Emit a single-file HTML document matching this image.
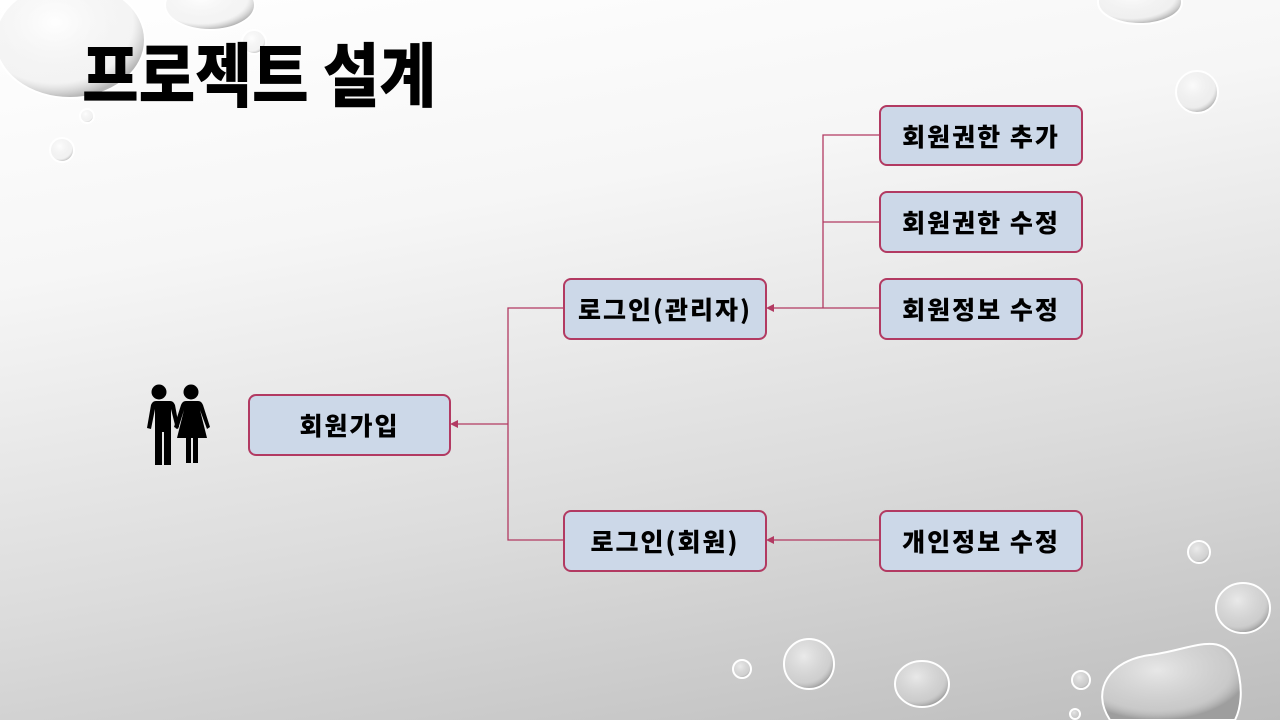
<!DOCTYPE html>
<html><head><meta charset="utf-8"><style>
html,body{margin:0;padding:0}
body{width:1280px;height:720px;position:relative;overflow:hidden;background:linear-gradient(170deg,#ffffff 0%,#f6f6f6 30%,#dcdcdc 65%,#bdbdbd 100%);font-family:"Liberation Sans","Noto Sans CJK KR",sans-serif}
.t{position:absolute;left:82px;top:22px;font-size:70px;font-weight:900;letter-spacing:0;color:#000;line-height:100px;font-family:"Noto Sans CJK KR","NanumGothic",sans-serif;transform:scaleX(0.88);transform-origin:0 0;white-space:nowrap}
.b{position:absolute;box-sizing:border-box;border:2px solid #b23a62;border-radius:8px;background:#ccd8e8;display:flex;align-items:center;justify-content:center;font-size:25px;font-weight:900;color:#000;letter-spacing:2px;font-family:"Noto Sans CJK KR","NanumGothic",sans-serif}
svg{position:absolute;left:0;top:0}
</style></head><body>
<svg width="1280" height="720">
<defs>
<radialGradient id="d" cx="40%" cy="35%" r="65%"><stop offset="0" stop-color="#fff" stop-opacity=".6"/><stop offset=".8" stop-color="#ddd" stop-opacity=".3"/><stop offset="1" stop-color="#888" stop-opacity=".6"/></radialGradient>
</defs>
<g fill="url(#d)" stroke="#fff" stroke-width="2">
<ellipse cx="70" cy="40" rx="75" ry="58"/>
<ellipse cx="210" cy="5" rx="45" ry="25"/>
<circle cx="254" cy="42" r="12"/>
<circle cx="87" cy="116" r="7"/>
<circle cx="62" cy="150" r="12"/>
<ellipse cx="1140" cy="2" rx="42" ry="22"/>
<circle cx="1197" cy="92" r="21"/>
<circle cx="1199" cy="552" r="11"/>
<ellipse cx="1243" cy="608" rx="27" ry="25"/>
<circle cx="809" cy="664" r="25"/>
<circle cx="742" cy="669" r="9"/>
<ellipse cx="922" cy="684" rx="27" ry="23"/>
<circle cx="1081" cy="680" r="9"/>
<circle cx="1075" cy="714" r="5"/>
<path d="M1110 720 C1090 690 1110 660 1150 655 C1190 650 1220 630 1235 660 C1245 690 1240 710 1235 720 Z"/>
</g>
<g stroke="#b23a62" stroke-width="1.3" fill="none">
<path d="M879 135H823V308H770M879 222H823M879 308H823"/>
<path d="M563 308H508V540H563M508 424H454"/>
<path d="M879 540H770"/>
</g>
<g fill="#b23a62">
<path d="M766 308l8-4v8z"/><path d="M450 424l8-4v8z"/><path d="M766 540l8-4v8z"/>
</g>
<g fill="#000">
<circle cx="159" cy="392" r="7.5"/>
<path d="M148 401h22c3 0 4 2 5 4l4 22-3 2-5-20v56h-7v-33h-2v33h-7v-56l-4 20-4-1 4-23c1-2 2-4 5-4z"/>
<circle cx="191" cy="392" r="7.5"/>
<path d="M184 401h14c3 0 4 2 5 4l7 22-3 2-7-19 7 28h-9v25h-5v-25h-2v25h-5v-25h-9l7-28-6 19-4-2 7-22c1-2 2-4 5-4z"/>
</g>
</svg>
<div class="t">프로젝트 설계</div>
<div class="b" style="left:248px;top:394px;width:203px;height:62px">회원가입</div>
<div class="b" style="left:563px;top:278px;width:204px;height:62px">로그인(관리자)</div>
<div class="b" style="left:563px;top:510px;width:204px;height:62px">로그인(회원)</div>
<div class="b" style="left:879px;top:105px;width:204px;height:61px">회원권한 추가</div>
<div class="b" style="left:879px;top:191px;width:204px;height:62px">회원권한 수정</div>
<div class="b" style="left:879px;top:278px;width:204px;height:62px">회원정보 수정</div>
<div class="b" style="left:879px;top:510px;width:204px;height:62px">개인정보 수정</div>
</body></html>
